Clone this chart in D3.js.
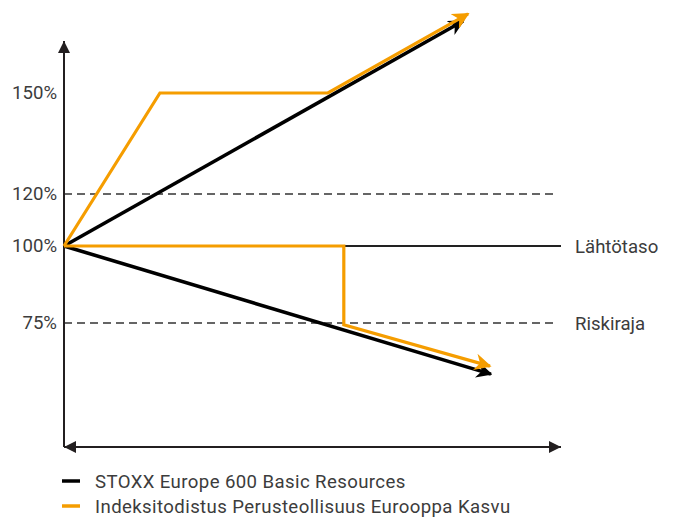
<!DOCTYPE html>
<html>
<head>
<meta charset="utf-8">
<script src="https://cdn.jsdelivr.net/npm/d3@7.9.0/dist/d3.min.js"></script>
<style>
  body { margin: 0; background: #fff; }
  svg { display: block; font-family: Roboto, "Noto Sans", sans-serif; }
</style>
</head>
<body>
<div id="chart"></div>
<script>
// y-axis levels (percent) and their labels
const yTicks = [75, 100, 120, 150];
const dashedLevels = [120, 75];
const baseLevel = 100;
const levelLabels = [{ level: 100, text: 'Lähtötaso' }, { level: 75, text: 'Riskiraja' }];

// series, x in % of the time axis, y in % of start level
const blackUp = [[0, 100], [80.3, 171.4]];
const blackDown = [[0, 100], [85.9, 58.4]];
const orangeUp = [[0, 100], [19.3, 150], [53.1, 150], [81.3, 173.5]];
const orangeDown = [[0, 100], [56.3, 100], [56.3, 74.4], [85.7, 61.0]];

const legendNames = ['STOXX Europe 600 Basic Resources', 'Indeksitodistus Perusteollisuus Eurooppa Kasvu'];

const width = 675;
const height = 517;
const black = '#000000';
const orange = '#f59d00';
const axisColor = '#231f20';
const textColor = '#3c3c3c';
const fontSize = '18.6px';

const svg = d3.select('#chart')
  .append('svg')
  .attr('width', width)
  .attr('height', height);

const xScale = d3.scaleLinear().domain([0, 100]).range([64, 561]);
// schematic, non-uniform axis
const yScale = d3.scaleLinear().domain(yTicks).range([323, 246, 194, 93]);

// arrow markers
const defs = svg.append('defs');
function addMarker(id, color, size) {
  defs.append('marker')
    .attr('id', id)
    .attr('viewBox', '0 0 10 10')
    .attr('refX', 9)
    .attr('refY', 5)
    .attr('markerUnits', 'userSpaceOnUse')
    .attr('markerWidth', size)
    .attr('markerHeight', size)
    .attr('orient', 'auto')
    .append('path')
    .attr('d', 'M0,0 L10,5 L0,10 L3,5 Z')
    .attr('fill', color);
}
addMarker('arrow-black', black, 16);
addMarker('arrow-orange', orange, 17);
defs.append('marker')
  .attr('id', 'arrow-axis')
  .attr('viewBox', '0 0 10 10')
  .attr('refX', 10)
  .attr('refY', 5)
  .attr('markerUnits', 'userSpaceOnUse')
  .attr('markerWidth', 12)
  .attr('markerHeight', 12)
  .attr('orient', 'auto-start-reverse')
  .append('path')
  .attr('d', 'M0,0 L10,5 L0,10 Z')
  .attr('fill', axisColor);

// reference lines
const grid = svg.append('g').attr('class', 'grid');
grid.selectAll('line.dashed')
  .data(dashedLevels)
  .join('line')
  .attr('class', 'dashed')
  .attr('x1', xScale(0))
  .attr('x2', xScale(99.2))
  .attr('y1', (d) => yScale(d))
  .attr('y2', (d) => yScale(d))
  .attr('stroke', '#333')
  .attr('stroke-width', 1.5)
  .attr('stroke-dasharray', '8,5');

grid.append('line')
  .attr('x1', xScale(0))
  .attr('x2', xScale(100))
  .attr('y1', yScale(baseLevel))
  .attr('y2', yScale(baseLevel))
  .attr('stroke', '#222')
  .attr('stroke-width', 1.8);

grid.selectAll('text')
  .data(levelLabels)
  .join('text')
  .attr('x', 575)
  .attr('y', (d) => yScale(d.level))
  .attr('dy', '0.35em')
  .attr('fill', textColor)
  .style('font-size', fontSize)
  .text((d) => d.text);

// axes
const axes = svg.append('g').attr('class', 'axes');
axes.append('line')
  .attr('x1', xScale(0)).attr('x2', xScale(0))
  .attr('y1', 447).attr('y2', 41)
  .attr('stroke', axisColor)
  .attr('stroke-width', 2)
  .attr('marker-end', 'url(#arrow-axis)');
axes.append('line')
  .attr('x1', xScale(0)).attr('x2', xScale(100))
  .attr('y1', 447).attr('y2', 447)
  .attr('stroke', axisColor)
  .attr('stroke-width', 2)
  .attr('marker-start', 'url(#arrow-axis)')
  .attr('marker-end', 'url(#arrow-axis)');

const yAxis = d3.axisLeft(yScale)
  .tickValues(yTicks)
  .tickSize(0)
  .tickPadding(7)
  .tickFormat((d) => d + '%');
const yAxisG = svg.append('g')
  .attr('transform', `translate(${xScale(0)},0)`)
  .call(yAxis);
yAxisG.select('.domain').remove();
yAxisG.selectAll('text')
  .attr('fill', textColor)
  .style('font-family', 'Roboto, sans-serif')
  .style('font-size', fontSize);

// series lines
const line = d3.line()
  .x((d) => xScale(d[0]))
  .y((d) => yScale(d[1]));

const series = [
  { data: blackUp, color: black, w: 3.6, marker: 'arrow-black' },
  { data: blackDown, color: black, w: 3.6, marker: 'arrow-black' },
  { data: orangeUp, color: orange, w: 3.2, marker: 'arrow-orange' },
  { data: orangeDown, color: orange, w: 3.2, marker: 'arrow-orange' },
];

svg.append('g')
  .attr('class', 'series')
  .selectAll('path')
  .data(series)
  .join('path')
  .attr('d', (d) => line(d.data))
  .attr('fill', 'none')
  .attr('stroke', (d) => d.color)
  .attr('stroke-width', (d) => d.w)
  .attr('stroke-linejoin', 'miter')
  .attr('marker-end', (d) => `url(#${d.marker})`);

// legend
const legend = svg.append('g').attr('class', 'legend');
const legendColors = [black, orange];
const rows = legend.selectAll('g')
  .data(legendNames)
  .join('g')
  .attr('transform', (d, i) => `translate(62, ${481 + i * 25})`);
rows.append('line')
  .attr('x1', 0).attr('x2', 18)
  .attr('stroke', (d, i) => legendColors[i])
  .attr('stroke-width', 3.5);
rows.append('text')
  .attr('x', 33)
  .attr('dy', '0.35em')
  .attr('fill', textColor)
  .style('font-size', fontSize)
  .style('letter-spacing', '0.4px')
  .text((d) => d);
</script>
</body>
</html>
